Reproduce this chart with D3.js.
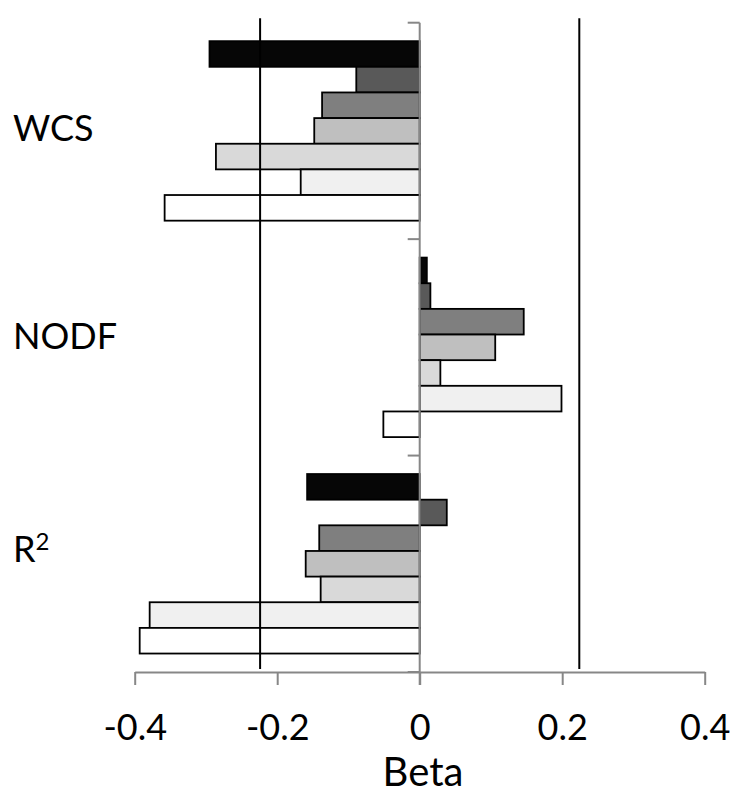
<!DOCTYPE html>
<html>
<head>
<meta charset="utf-8">
<script src="https://cdn.jsdelivr.net/npm/d3@7"></script>
<style>
    body { margin: 0; background: #fff; }
    text { font-family: Lato, "Open Sans", sans-serif; fill: #000; }
</style>
</head>
<body>
<svg width="735" height="794"></svg>
<script>
"use strict";

// Categories, top to bottom
const CATEGORIES = ["WCS", "NODF", "R2"];
// 7 series per category, top bar first
const SERIES = ["s1", "s2", "s3", "s4", "s5", "s6", "s7"];
const SERIES_COLORS = ["#060606", "#595959", "#7f7f7f", "#bfbfbf", "#d9d9d9", "#f0f0f0", "#ffffff"];

// Beta values, one array per category, in SERIES order
const wcsBeta = [-0.295, -0.089, -0.137, -0.148, -0.286, -0.167, -0.358];
const nodfBeta = [0.010, 0.015, 0.146, 0.106, 0.029, 0.199, -0.051];
const r2Beta = [-0.158, 0.038, -0.141, -0.160, -0.139, -0.379, -0.393];

const X_TICKS = [-0.4, -0.2, 0, 0.2, 0.4];
const X_TICK_LABELS = ["-0.4", "-0.2", "0", "0.2", "0.4"];
const CRITICAL_BETA = [-0.224, 0.224]; // vertical reference lines

const betaByCategory = [wcsBeta, nodfBeta, r2Beta];
const rows = CATEGORIES.flatMap((cat, ci) =>
    betaByCategory[ci].map((v, si) => ({ cat: cat, series: SERIES[si], value: v, color: SERIES_COLORS[si] })));

const svg = d3.select("svg");
const axisGray = "#878787";
const labelNudge = [10, 2, -2]; // labels don't sit exactly at band centres in the original

const xScale = d3.scaleLinear()
    .domain([-0.4, 0.4])
    .range([134.7, 704.7]);

const yScale = d3.scaleBand()
    .domain(CATEGORIES)
    .range([22.7, 672])
    .padding(0);

const ySeries = d3.scaleBand()
    .domain(SERIES)
    .range([0, yScale.bandwidth()])
    .paddingInner(0)
    .paddingOuter(0.72);

// bars
svg.append("g")
    .selectAll("rect")
    .data(rows)
    .join("rect")
    .attr("x", d => xScale(Math.min(0, d.value)))
    .attr("y", d => yScale(d.cat) + ySeries(d.series))
    .attr("width", d => Math.abs(xScale(d.value) - xScale(0)))
    .attr("height", ySeries.bandwidth())
    .attr("fill", d => d.color)
    .attr("stroke", "#000")
    .attr("stroke-width", 1.8);

// x axis (bottom)
const xAxis = svg.append("g")
    .attr("transform", `translate(0, ${yScale.range()[1]})`)
    .call(d3.axisBottom(xScale)
        .tickValues(X_TICKS)
        .tickFormat((d, i) => X_TICK_LABELS[i])
        .tickSize(13)
        .tickSizeOuter(0));
xAxis.select(".domain").attr("stroke", axisGray).attr("stroke-width", 2);
xAxis.selectAll(".tick line").attr("stroke", axisGray).attr("stroke-width", 2);
xAxis.selectAll(".tick text")
    .attr("y", 68)
    .attr("dy", null)
    .attr("font-size", 36)
    .attr("font-family", "Lato, 'Open Sans', sans-serif")
    .attr("fill", "#000");

// reference lines at +-critical beta
svg.append("g")
    .selectAll("line")
    .data(CRITICAL_BETA)
    .join("line")
    .attr("x1", d => xScale(d))
    .attr("x2", d => xScale(d))
    .attr("y1", yScale.range()[0] - 4.5)
    .attr("y2", yScale.range()[1] - 3)
    .attr("stroke", "#000")
    .attr("stroke-width", 2);

// category axis at beta = 0, ticks on band edges
const bandEdges = CATEGORIES.map(c => yScale(c)).concat([yScale.range()[1]]);
const catAxis = svg.append("g");
catAxis.append("line")
    .attr("x1", xScale(0)).attr("x2", xScale(0))
    .attr("y1", yScale.range()[0])
    .attr("y2", yScale.range()[1] + 13)
    .attr("stroke", axisGray)
    .attr("stroke-width", 2);
catAxis.selectAll(".ctick")
    .data(bandEdges)
    .join("line")
    .attr("class", "ctick")
    .attr("x1", xScale(0) - 12).attr("x2", xScale(0))
    .attr("y1", d => d).attr("y2", d => d)
    .attr("stroke", axisGray)
    .attr("stroke-width", 2);

// category labels on the left
const labels = svg.append("g")
    .selectAll("text")
    .data(CATEGORIES)
    .join("text")
    .attr("x", 13)
    .attr("y", (d, i) => yScale(d) + yScale.bandwidth() / 2 + labelNudge[i])
    .attr("font-size", 36);
labels.each(function (d) {
    const t = d3.select(this);
    if (d === "R2") {
        t.append("tspan").text("R");
        t.append("tspan").text("2").attr("font-size", 24).attr("dy", -12);
    } else {
        t.text(d);
    }
});

// axis title
svg.append("text")
    .attr("x", 423)
    .attr("y", 786)
    .attr("text-anchor", "middle")
    .attr("font-size", 40)
    .text("Beta");
</script>
</body>
</html>
